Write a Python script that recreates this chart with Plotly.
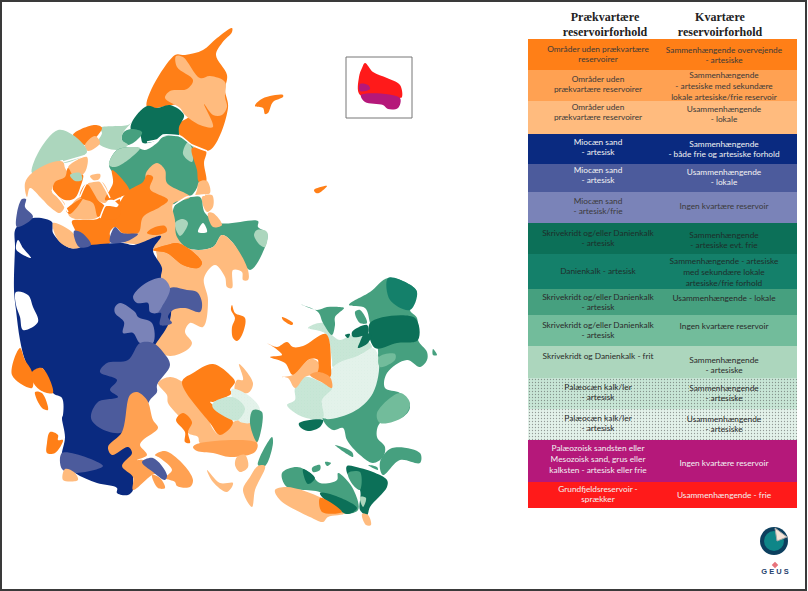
#
#   Denmark: reservoir conditions map and its legend table.
#

import plotly.graph_objects as go

# -------- colours -------- #
ORANGE = "#FF7F17"
MID_ORANGE = "#FFA152"
LIGHT_ORANGE = "#FFBB7E"
NAVY = "#0A2A80"
MID_BLUE = "#4C5B9C"
LIGHT_BLUE = "#7A83B8"
DARK_GREEN = "#0C7058"
DEEP_GREEN = "#14806A"
GREEN = "#46A07F"
SOFT_GREEN = "#72BC9B"
LIGHT_GREEN = "#ACD6BD"
PALE_GREEN = "#C8E6D6"
PALEST_GREEN = "#E3F2EA"
MAGENTA = "#B5187A"
RED = "#FF1A1A"
WHITE = "#FFFFFF"
# colour of the fine dots printed on some classes
DOTS = {PALE_GREEN: "#C0E1CF", PALEST_GREEN: "#DBEEE4"}

# -------- legend table -------- #
row_edges = [39, 70, 101, 134, 164, 192, 223, 254, 289, 315, 346, 378, 409, 440, 482, 508]
row_colours = [ORANGE, MID_ORANGE, LIGHT_ORANGE, NAVY, MID_BLUE, LIGHT_BLUE, DARK_GREEN, DEEP_GREEN,
               GREEN, SOFT_GREEN, LIGHT_GREEN, PALE_GREEN, PALEST_GREEN, MAGENTA, RED]
left_labels = [
    "Områder uden prækvartære<br>reservoirer",
    "Områder uden<br>prækvartære reservoirer",
    "Områder uden<br>prækvartære reservoirer",
    "Miocæn sand<br>- artesisk",
    "Miocæn sand<br>- artesisk",
    "Miocæn sand<br>- artesisk/frie",
    "Skrivekridt og/eller Danienkalk<br>- artesisk",
    "Danienkalk - artesisk",
    "Skrivekridt og/eller Danienkalk<br>- artesisk",
    "Skrivekridt og/eller Danienkalk<br>- artesisk",
    "Skrivekridt og Danienkalk - frit",
    "Palæocæn kalk/ler<br>- artesisk",
    "Palæocæn kalk/ler<br>- artesisk",
    "Palæozoisk sandsten eller<br>Mesozoisk sand, grus eller<br>kalksten - artesisk eller frie",
    "Grundfjeldsreservoir -<br>sprækker",
]
right_labels = [
    "Sammenhængende overvejende<br>- artesiske",
    "Sammenhængende<br>- artesiske med sekundære<br>lokale artesiske/frie reservoir",
    "Usammenhængende<br>- lokale",
    "Sammenhængende<br>- både frie og artesiske forhold",
    "Usammenhængende<br>- lokale",
    "Ingen kvartære reservoir",
    "Sammenhængende<br>- artesiske evt. frie",
    "Sammenhængende - artesiske<br>med sekundære lokale<br>artesiske/frie forhold",
    "Usammenhængende - lokale",
    "Ingen kvartære reservoir",
    "Sammenhængende<br>- artesiske",
    "Sammenhængende<br>- artesiske",
    "Usammenhængende<br>- artesiske",
    "Ingen kvartære reservoir",
    "Usammenhængende - frie",
]
left_label_y = [55, 85, 113, 148, 176, 207, 239, 272, 303, 331, 357, 393, 424, 460, 495]
right_label_y = [56, 87, 115, 150, 178, 207, 241, 273, 299, 327, 366, 394, 425, 464, 496]
label_colours = ["#3A3A3A"] * 3 + ["#F2F2F2"] * 2 + ["#3A3A3A"] + ["#1E2E2A"] * 2 + ["#2A2A2A"] * 5 + ["#F2F2F2"] * 2
column_headers = ["<b>Prækvartære<br>reservoirforhold</b>", "<b>Kvartære<br>reservoirforhold</b>"]

# -------- northern Jutland -------- #
vendsyssel = [(175, 55), (185, 55), (203, 50), (217, 38), (232, 28), (232, 32), (222, 43), (216, 55), (227, 75), (225, 90), (228, 108), (210, 150), (192, 146), (180, 136), (178, 125), (190, 115), (180, 105), (147, 107)]
vendsyssel_light = [(176, 56), (183, 57), (200, 78), (210, 76), (225, 82), (225, 97), (227, 107), (222, 115), (213, 115), (204, 104), (213, 127), (200, 125), (185, 115), (180, 108), (165, 98), (170, 91), (187, 89), (193, 80), (177, 67)]
han_herred = [(147, 106), (157, 108), (170, 105), (184, 115), (179, 127), (178, 138), (163, 135), (157, 140), (143, 143), (140, 135), (131, 130), (132, 122)]
han_mid = [(131, 129), (142, 132), (140, 137), (128, 145), (122, 140), (123, 133)]
thy_pale = [(128, 125), (100, 128), (102, 133), (98, 143), (117, 150), (128, 145), (122, 140), (123, 133), (132, 122)]
thy_orange = [(73, 135), (95, 125), (102, 128), (85, 145)]
thy_light = [(85, 145), (95, 136), (100, 143), (88, 151)]
west_pale = [(58, 130), (73, 135), (87, 152), (63, 163), (63, 160), (43, 170), (32, 173), (38, 153)]
west_light = [(32, 173), (53, 162), (63, 162), (65, 168), (70, 177), (55, 183), (52, 192), (62, 200), (65, 205), (60, 213), (50, 207), (42, 199), (30, 188), (27, 197), (25, 183)]
salling_green = [(109, 165), (117, 150), (135, 147), (145, 150), (157, 143), (163, 137), (180, 137), (195, 150), (199, 182), (190, 197), (173, 204), (168, 197), (133, 192), (115, 175)]
salling_pale = [(109, 165), (117, 150), (135, 147), (140, 148), (128, 160), (115, 167)]
mariager_pale = [(188, 142), (193, 152), (192, 162), (183, 154)]
kattegat_strip = [(192, 148), (206, 151), (204, 163), (206, 182), (199, 182), (197, 170)]
strip_light_a = [(199, 182), (207, 181), (210, 193), (200, 195), (195, 197), (197, 190)]
strip_light_b = [(202, 197), (212, 195), (213, 207), (207, 212)]
djursland = [(174, 207), (187, 198), (200, 197), (205, 213), (220, 223), (258, 221), (258, 227), (267, 233), (265, 247), (250, 270), (233, 243), (222, 235), (213, 247), (190, 249), (177, 240)]
djursland_light = [(208, 213), (213, 213), (222, 225), (213, 227)]
djursland_pale_a = [(175, 223), (183, 219), (188, 223), (180, 236)]
djursland_pale_b = [(257, 230), (267, 232), (265, 247), (260, 245), (254, 235)]
djursland_notch = [(203, 223), (198, 232), (207, 232)]
east_light = [(146, 173), (157, 163), (165, 170), (167, 183), (190, 197), (173, 204), (175, 220), (177, 237), (190, 249), (213, 247), (222, 235), (233, 243), (248, 270), (248, 280), (243, 280), (242, 272), (233, 270), (232, 288), (227, 287), (225, 277), (215, 265), (204, 278), (208, 300), (203, 327), (190, 323), (185, 332), (192, 343), (187, 350), (170, 356), (157, 350), (153, 337), (150, 300), (155, 250), (120, 240), (125, 220), (146, 190)]
central_orange = [(72, 221), (87, 220), (99, 218), (102, 208), (117, 207), (120, 202), (128, 191), (143, 182), (147, 175), (153, 177), (150, 189), (168, 200), (160, 207), (143, 217), (140, 230), (138, 233), (123, 233), (115, 227), (110, 232), (110, 243), (90, 245), (80, 245), (75, 230)]
central_tail = [(153, 228), (165, 226), (167, 231), (157, 235), (147, 233)]
gudena_orange = [(153, 250), (167, 245), (177, 243), (193, 252), (202, 263), (198, 268), (183, 265), (167, 253)]
mors_orange = [(68, 168), (75, 178), (83, 175), (80, 188), (75, 198), (65, 200), (53, 190), (55, 182), (65, 177)]
mors_pale = [(70, 175), (80, 173), (82, 180), (75, 181)]
mors_light = [(72, 163), (87, 157), (85, 172), (75, 178), (68, 168)]
skive_orange = [(87, 184), (98, 200), (105, 207), (98, 217), (93, 203), (80, 197), (83, 187)]
skive_light = [(88, 183), (102, 182), (109, 197), (105, 203), (98, 200)]
skive_spot = [(90, 176), (100, 174), (100, 178), (95, 181)]
holstebro_light = [(80, 197), (97, 205), (98, 217), (72, 218), (68, 213)]
holstebro_orange = [(83, 198), (70, 214), (66, 210)]
viborg_orange = [(112, 170), (130, 192), (120, 198), (122, 207), (113, 200), (105, 200), (113, 183)]
viborg_link = [(102, 208), (110, 206), (120, 210), (118, 218), (104, 218)]

# -------- southern Jutland -------- #
navy_body = [(16, 228), (33, 218), (52, 222), (53, 233), (70, 248), (90, 245), (123, 243), (133, 245), (161, 236), (153, 250), (162, 268), (161, 278), (170, 300), (170, 320), (155, 345), (140, 365), (135, 375), (133, 477), (133, 490), (128, 495), (117, 493), (117, 488), (97, 483), (75, 473), (62, 460), (65, 437), (62, 418), (63, 415), (62, 398), (53, 393), (42, 368), (32, 373), (25, 360), (20, 340), (16, 310), (14, 290), (15, 248)]
ringkobing_fjord = [(16, 292), (28, 295), (33, 307), (38, 322), (23, 330), (20, 317), (16, 305)]
nissum_fjord = [(18, 240), (23, 248), (31, 258), (20, 253), (16, 249)]
thyboron_blue = [(22, 199), (26, 199), (25, 207), (33, 217), (17, 227), (17, 213)]
band_light = [(53, 223), (72, 232), (80, 247), (70, 248), (58, 240)]
blue_north_a = [(74, 231), (82, 233), (91, 245), (79, 247)]
blue_north_b = [(110, 242), (115, 227), (122, 233), (138, 234), (125, 242)]
light_blue_a = [(133, 297), (143, 285), (162, 278), (170, 288), (163, 305), (157, 313), (150, 312), (148, 303), (137, 303)]
mid_blue_east = [(170, 288), (187, 290), (197, 292), (202, 303), (200, 312), (185, 308), (173, 310), (168, 317), (172, 323), (160, 325), (161, 313), (157, 313), (163, 305)]
light_blue_b = [(115, 307), (120, 303), (135, 312), (138, 317), (152, 323), (153, 343), (140, 343), (133, 333), (123, 333), (124, 322), (115, 313)]
mid_blue_south = [(140, 343), (153, 343), (163, 352), (170, 365), (157, 385), (157, 392), (150, 400), (140, 420), (120, 433), (100, 428), (91, 418), (98, 402), (118, 397), (110, 390), (117, 380), (100, 372), (107, 363), (128, 360)]
haderslev_orange = [(130, 395), (137, 392), (147, 400), (153, 420), (158, 428), (143, 440), (140, 445), (147, 455), (137, 460), (143, 460), (160, 472), (152, 475), (133, 490), (133, 477), (122, 466), (132, 453), (128, 447), (112, 455), (108, 447), (122, 432)]
als_blue = [(142, 462), (153, 458), (167, 475), (165, 480), (153, 472)]
als_orange = [(155, 455), (165, 451), (182, 463), (193, 480), (190, 487), (177, 486), (175, 482), (170, 480), (165, 478), (172, 470), (160, 458)]
als_tip = [(152, 475), (160, 478), (165, 488), (158, 488)]
fano_orange = [(20, 348), (25, 360), (32, 372), (32, 388), (12, 375)]
mando_orange = [(32, 372), (42, 368), (53, 393), (40, 390), (32, 380)]
ribe_orange = [(35, 392), (42, 393), (48, 410), (42, 408)]
romo_orange = [(50, 432), (58, 435), (58, 440), (63, 440), (55, 453), (47, 453), (47, 443)]
tonder_blue = [(62, 453), (103, 466), (75, 473), (62, 469)]
tonder_light = [(65, 469), (74, 472), (78, 480), (63, 480)]

# -------- islands -------- #
laeso = [(260, 100), (270, 96), (283, 95), (283, 97), (273, 102), (268, 113), (265, 114), (263, 108), (255, 106)]
anholt = [(314, 190), (327, 186), (319, 193), (316, 193)]
samso = [(232, 305), (235, 313), (245, 318), (242, 335), (237, 341), (233, 338), (232, 327), (235, 318), (231, 310)]
sejero = [(282, 317), (293, 323), (292, 325), (283, 320)]
bornholm_red = [(365, 63), (373, 72), (387, 78), (400, 85), (402, 97), (400, 98), (360, 95), (359, 77), (362, 68)]
bornholm_spot = [(360, 84), (368, 85), (370, 89), (360, 91)]
bornholm_south = [(361, 95), (400, 98), (398, 108), (388, 109), (383, 105), (365, 102)]

# -------- Funen -------- #
fyn_light = [(158, 383), (170, 377), (183, 382), (210, 402), (210, 423), (220, 435), (233, 422), (252, 420), (257, 443), (200, 443), (198, 437), (188, 433), (180, 418), (168, 403), (167, 395)]
fyn_orange = [(182, 382), (193, 373), (213, 364), (232, 377), (235, 382), (230, 390), (232, 393), (213, 402), (210, 402), (233, 422), (220, 435), (210, 423)]
fyn_spot = [(176, 420), (183, 413), (192, 422), (188, 432), (190, 443), (185, 442), (185, 432)]
fyn_south = [(193, 447), (200, 443), (257, 443), (255, 452), (230, 457), (213, 453), (197, 451)]
hindsholm = [(239, 364), (253, 383), (248, 393), (235, 390), (237, 380), (243, 380)]
fyn_paler = [(232, 389), (248, 395), (260, 410), (250, 423), (238, 420), (245, 408), (232, 397)]
fyn_pale = [(213, 403), (232, 397), (245, 408), (238, 420), (232, 420), (213, 408)]
fyn_green = [(250, 423), (253, 410), (262, 412), (257, 442)]
langeland_green = [(272, 437), (273, 443), (265, 466), (258, 465)]
langeland_light = [(258, 466), (265, 466), (255, 490), (252, 507), (243, 490), (250, 477)]
tasinge = [(237, 457), (245, 455), (248, 467), (240, 472), (235, 465)]
aero = [(207, 470), (220, 483), (233, 483), (227, 492), (213, 482)]

# -------- Zealand and the southern islands -------- #
sjaelland = [(349, 305), (370, 292), (388, 278), (407, 283), (417, 292), (410, 310), (417, 318), (418, 340), (427, 352), (427, 360), (420, 367), (407, 360), (387, 373), (385, 388), (400, 393), (410, 407), (403, 417), (380, 423), (377, 437), (385, 447), (383, 457), (373, 463), (360, 455), (347, 440), (343, 428), (333, 430), (323, 420), (322, 402), (377, 360), (370, 323), (365, 308)]
sjaelland_dark = [(370, 323), (415, 318), (418, 340), (397, 343), (375, 348)]
sjaelland_deep = [(388, 278), (407, 283), (417, 292), (410, 310), (390, 300)]
hornsherred_dark_a = [(352, 332), (367, 325), (368, 333), (353, 337)]
hornsherred_dark_b = [(365, 333), (371, 335), (368, 343), (358, 348), (360, 342)]
hornsherred_green = [(355, 312), (360, 310), (367, 323), (360, 323)]
hornsherred_spot = [(345, 335), (350, 334), (348, 338)]
midt_paler = [(322, 400), (333, 367), (360, 355), (373, 348), (379, 360), (373, 393), (353, 412), (323, 418)]
north_pale = [(308, 328), (323, 323), (332, 335), (340, 340), (352, 335), (362, 337), (372, 347), (360, 355), (333, 367), (332, 360), (326, 334)]
south_pale = [(295, 388), (305, 377), (323, 383), (332, 388), (322, 400), (323, 418), (303, 417), (287, 405), (295, 400)]
odsherred = [(267, 343), (277, 347), (287, 342), (293, 347), (303, 346), (326, 334), (331, 367), (330, 377), (317, 372), (318, 360), (310, 359), (293, 375), (285, 363), (270, 357), (282, 355), (275, 348)]
odsherred_light = [(282, 377), (293, 375), (310, 359), (318, 362), (317, 373), (305, 377), (295, 388), (288, 378)]
odsherred_mid = [(310, 375), (318, 372), (330, 377), (332, 388), (323, 383)]
rosnaes = [(300, 304), (317, 310), (327, 307), (340, 307), (344, 308), (335, 317), (335, 325), (332, 335), (323, 323), (318, 312)]
korsor_dark = [(299, 423), (323, 420), (320, 427), (308, 431), (300, 427)]
koge_soft = [(377, 413), (400, 393), (410, 403), (403, 417), (380, 423)]
roskilde_soft = [(379, 357), (395, 354), (395, 360), (380, 367)]
stevns = [(392, 448), (420, 453), (420, 463), (400, 460), (383, 475), (380, 462)]
hven = [(433, 349), (437, 355), (433, 355)]
omo = [(335, 445), (352, 452), (353, 457)]
fejo = [(312, 468), (320, 465), (320, 470), (313, 472)]
femo = [(325, 462), (331, 463), (327, 466)]
bogo = [(368, 465), (377, 467), (378, 470)]
lolland = [(282, 473), (297, 467), (310, 473), (320, 483), (337, 480), (338, 473), (352, 487), (358, 510), (340, 513), (322, 493), (287, 487)]
lolland_dark_a = [(303, 469), (315, 478), (308, 484)]
lolland_dark_b = [(320, 493), (333, 495), (357, 508), (348, 514), (323, 498)]
lolland_light = [(275, 490), (287, 487), (322, 498), (345, 513), (328, 517), (323, 522), (310, 517), (280, 500)]
lolland_orange = [(320, 498), (342, 512), (322, 512)]
falster_dark = [(347, 466), (360, 468), (373, 472), (387, 480), (387, 487), (370, 507), (367, 515), (360, 510), (360, 490), (347, 473)]
falster_green = [(348, 473), (360, 472), (360, 490), (353, 485)]
falster_pale = [(360, 497), (366, 498), (363, 507)]
falster_tip = [(362, 514), (368, 515), (371, 525), (366, 525)]

# thin white channels cut through the regions
limfjord_main = [(147, 142), (157, 140), (163, 135), (180, 136), (192, 145), (207, 151)]
limfjord_east = [(174, 205), (187, 197), (205, 195)]
limfjord_thy = [(63, 162), (87, 155)]
limfjord_salling = [(80, 197), (87, 183), (100, 181), (110, 198)]
limfjord_skive = [(100, 218), (105, 206), (120, 198)]
limfjord_mors = [(52, 190), (62, 202), (68, 212)]
channels = [limfjord_main, limfjord_east, limfjord_thy, limfjord_salling, limfjord_skive, limfjord_mors]

# painted back to front, later regions sit on top
regions = [
    (ORANGE, vendsyssel), (LIGHT_ORANGE, vendsyssel_light), (DARK_GREEN, han_herred), (GREEN, han_mid),
    (LIGHT_GREEN, thy_pale), (ORANGE, thy_orange), (LIGHT_ORANGE, thy_light), (LIGHT_GREEN, west_pale),
    (LIGHT_ORANGE, west_light), (GREEN, salling_green), (LIGHT_GREEN, salling_pale), (LIGHT_GREEN, mariager_pale),
    (ORANGE, kattegat_strip), (LIGHT_ORANGE, strip_light_a), (LIGHT_ORANGE, strip_light_b), (GREEN, djursland),
    (LIGHT_ORANGE, djursland_light), (LIGHT_GREEN, djursland_pale_a), (LIGHT_GREEN, djursland_pale_b),
    (WHITE, djursland_notch), (LIGHT_ORANGE, east_light), (ORANGE, central_orange), (ORANGE, central_tail),
    (ORANGE, gudena_orange), (LIGHT_ORANGE, mors_light), (ORANGE, mors_orange), (LIGHT_GREEN, mors_pale),
    (LIGHT_ORANGE, holstebro_light), (LIGHT_ORANGE, skive_light), (ORANGE, skive_orange), (LIGHT_ORANGE, skive_spot),
    (ORANGE, holstebro_orange), (ORANGE, viborg_orange), (ORANGE, viborg_link),
    (NAVY, navy_body), (WHITE, ringkobing_fjord), (WHITE, nissum_fjord), (MID_BLUE, thyboron_blue),
    (LIGHT_ORANGE, band_light), (MID_BLUE, blue_north_a), (MID_BLUE, blue_north_b), (ORANGE, gudena_orange),
    (MID_BLUE, mid_blue_east), (LIGHT_BLUE, light_blue_a), (LIGHT_BLUE, light_blue_b), (MID_BLUE, mid_blue_south),
    (MID_ORANGE, haderslev_orange), (MID_ORANGE, als_orange), (MID_BLUE, als_blue), (MID_ORANGE, als_tip),
    (ORANGE, fano_orange), (ORANGE, mando_orange), (ORANGE, ribe_orange), (ORANGE, romo_orange),
    (MID_BLUE, tonder_blue), (LIGHT_ORANGE, tonder_light),
    (ORANGE, laeso), (ORANGE, anholt), (ORANGE, samso), (ORANGE, sejero),
    (RED, bornholm_red), (MAGENTA, bornholm_spot), (MAGENTA, bornholm_south),
    (LIGHT_ORANGE, fyn_light), (ORANGE, fyn_orange), (ORANGE, fyn_spot), (MID_ORANGE, fyn_south),
    (LIGHT_ORANGE, hindsholm), (PALEST_GREEN, fyn_paler), (PALE_GREEN, fyn_pale), (GREEN, fyn_green),
    (GREEN, langeland_green), (LIGHT_ORANGE, langeland_light), (LIGHT_ORANGE, tasinge), (LIGHT_ORANGE, aero),
    (GREEN, sjaelland), (DARK_GREEN, sjaelland_dark), (DEEP_GREEN, sjaelland_deep), (GREEN, hornsherred_green),
    (PALE_GREEN, north_pale), (DARK_GREEN, hornsherred_dark_a), (DARK_GREEN, hornsherred_dark_b),
    (DARK_GREEN, hornsherred_spot), (PALEST_GREEN, midt_paler), (PALE_GREEN, south_pale), (ORANGE, odsherred),
    (LIGHT_ORANGE, odsherred_light), (MID_ORANGE, odsherred_mid), (GREEN, rosnaes), (DARK_GREEN, korsor_dark),
    (SOFT_GREEN, koge_soft), (SOFT_GREEN, roskilde_soft), (GREEN, stevns), (GREEN, hven), (GREEN, omo),
    (GREEN, fejo), (GREEN, femo), (GREEN, bogo), (GREEN, lolland), (DARK_GREEN, lolland_dark_a),
    (LIGHT_ORANGE, lolland_light), (DARK_GREEN, lolland_dark_b), (ORANGE, lolland_orange), (DARK_GREEN, falster_dark),
    (GREEN, falster_green), (LIGHT_GREEN, falster_pale), (LIGHT_ORANGE, falster_tip),
]


def add_region(fig, colour, points):
    xs = [p[0] for p in points] + [points[0][0]]
    ys = [p[1] for p in points] + [points[0][1]]
    pattern = None
    if colour in DOTS:
        pattern = dict(shape=".", size=3, solidity=0.15, fgcolor=DOTS[colour], bgcolor=colour)
    fig.add_trace(go.Scatter(x=xs, y=ys, mode="lines", fill="toself", fillcolor=colour, fillpattern=pattern,
                             line=dict(width=0, color=colour, shape="spline", smoothing=1.0),
                             hoverinfo="skip", showlegend=False))


def add_channel(fig, points):
    fig.add_trace(go.Scatter(x=[p[0] for p in points], y=[p[1] for p in points], mode="lines",
                             line=dict(width=1.5, color=WHITE, shape="spline", smoothing=0.5),
                             hoverinfo="skip", showlegend=False))


def add_labels(fig, x, ys, labels, colours, font_family, size):
    fig.add_trace(go.Scatter(x=[x] * len(ys), y=ys, mode="text", text=labels,
                             textfont=dict(family=font_family, size=size, color=colours),
                             textposition="middle center", hoverinfo="skip", showlegend=False))


def main():
    fig = go.Figure()

    for colour, points in regions:
        add_region(fig, colour, points)
    for points in channels:
        add_channel(fig, points)

    # legend rows are one bar per row on the page axes
    heights = [b - a for a, b in zip(row_edges, row_edges[1:])]
    fig.add_trace(go.Bar(
        x=[662.5] * len(heights), y=heights, base=row_edges[:-1], width=269,
        marker=dict(color=row_colours, line=dict(width=0),
                    pattern=dict(shape=["." if c in DOTS else "" for c in row_colours], size=3, solidity=0.15,
                                 fgcolor=[DOTS.get(c, c) for c in row_colours], fillmode="overlay")),
        hoverinfo="skip", showlegend=False))

    add_labels(fig, 598, left_label_y, left_labels, label_colours, "Lato", 8.3)
    add_labels(fig, 724, right_label_y, right_labels, label_colours, "Lato", 8.3)
    add_labels(fig, 605, [25.5], column_headers[:1], ["#222222"], "Liberation Serif", 12)
    add_labels(fig, 720, [25.5], column_headers[1:], ["#222222"], "Liberation Serif", 12)

    # GEUS logo
    add_labels(fig, 775, [572], ["<b>G E U S</b>"], ["#1F3F6E"], "Liberation Sans", 7.5)
    fig.add_trace(go.Scatter(x=[775], y=[565], mode="markers", hoverinfo="skip", showlegend=False,
                             marker=dict(symbol="diamond", size=5, color="#E8747C")))

    shapes = [
        dict(type="rect", x0=1, y0=1, x1=806, y1=590, line=dict(color="#3A3A3A", width=2)),
        dict(type="rect", x0=346, y0=57, x1=412, y1=118, line=dict(color="#777777", width=1)),
        dict(type="circle", x0=760, y0=527, x1=788, y1=555, fillcolor="#0C3F5E", line=dict(width=0)),
        dict(type="circle", x0=764, y0=531, x1=784, y1=551, fillcolor="#0E8688", line=dict(width=0)),
        dict(type="path", path="M 775 528 L 787 537 L 777 541 Z", fillcolor="#F4E4D8", line=dict(color="#A8A8A8", width=1)),
    ]

    fig.update_layout(
        width=808, height=591, margin=dict(l=0, r=0, t=0, b=0),
        plot_bgcolor="white", paper_bgcolor="white", shapes=shapes, barmode="overlay",
        xaxis=dict(range=[0, 808], visible=False, fixedrange=True),
        yaxis=dict(range=[591, 0], visible=False, fixedrange=True),
    )
    fig.write_html("out.html", config=dict(displayModeBar=False),
                   post_script="document.body.style.margin='0';document.body.style.overflow='hidden';")


if __name__ == "__main__":
    main()
